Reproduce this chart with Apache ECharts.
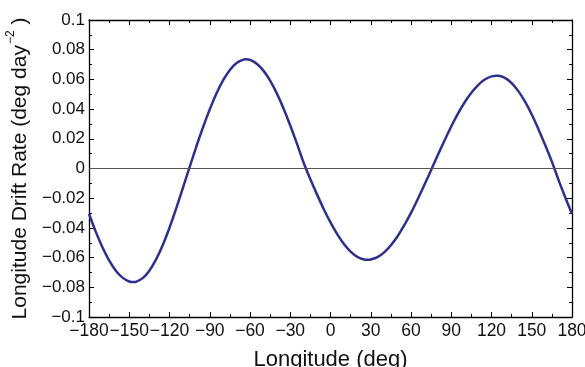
<!DOCTYPE html>
<html>
<head>
<meta charset="utf-8">
<script src="https://cdn.jsdelivr.net/npm/echarts@6/dist/echarts.min.js"></script>
<style>
html,body{margin:0;padding:0;background:#fff;}
#chart{width:585px;height:367px;}
</style>
</head>
<body>
<div id="chart"></div>
<script>
// Longitude (deg)
var longitudes = [-180,-175,-170,-165,-160,-155,-150,-147,-145,-140,-135,-130,-125,-120,-115,-110,-105,
  -100,-95,-90,-85,-80,-75,-70,-65,-63,-60,-55,-50,-45,-40,-35,-30,-25,-20,-15,-10,-5,
  0,5,10,15,20,25,28,30,35,40,45,50,55,60,65,70,75,
  80,85,90,95,100,105,110,115,120,124,125,130,135,140,145,150,155,160,165,170,175,180];
// Longitude drift rate (deg/day^2)
var driftRates = [-0.0305,-0.0425,-0.0530,-0.0619,-0.0688,-0.0735,-0.0761,-0.0765,-0.0763,-0.0738,-0.0688,-0.0612,-0.0515,-0.0399,-0.0269,-0.0130,0.0009,
  0.0148,0.0278,0.0398,0.0505,0.0595,0.0664,0.0711,0.0733,0.0735,0.0731,0.0706,0.0659,0.0592,0.0506,0.0404,0.0290,0.0167,0.0039,-0.0073,-0.0176,-0.0274,
  -0.0363,-0.0442,-0.0508,-0.0560,-0.0595,-0.0613,-0.0615,-0.0613,-0.0597,-0.0565,-0.0517,-0.0456,-0.0382,-0.0299,-0.0207,-0.0110,-0.0010,
  0.0091,0.0189,0.0283,0.0369,0.0446,0.0510,0.0562,0.0599,0.0620,0.0625,0.0625,0.0610,0.0575,0.0521,0.0450,0.0364,0.0265,0.0158,0.0046,-0.0078,-0.0195,-0.0305];
var xTicks = [-180,-150,-120,-90,-60,-30,0,30,60,90,120,150,180];
var yTicks = [-0.1,-0.08,-0.06,-0.04,-0.02,0,0.02,0.04,0.06,0.08,0.1];

var FONT = "'Liberation Sans', Arial, Helvetica, sans-serif";
function fmtNum(v){
  if (Math.abs(v) < 1e-12) return '0';
  var s = String(+Math.abs(v).toFixed(3));
  return (v < 0 ? '\u2212' : '') + s;
}
var pts = longitudes.map(function(x,i){return [x, driftRates[i]];});

var axisLine = {show:true, onZero:false, lineStyle:{color:'#000', width:1.3}};
var tick = {show:true, inside:true, length:5, lineStyle:{color:'#000', width:1}};
var minor = {show:true, splitNumber:2, length:3, lineStyle:{color:'#000', width:1}};

var chart = echarts.init(document.getElementById('chart'), null, {renderer:'canvas'});
chart.setOption({
  animation:false,
  backgroundColor:'#fff',
  grid:{left:89, right:13, top:20, bottom:50, containLabel:false, outerBoundsMode:'none'},
  xAxis:[{
    type:'value', min:xTicks[0], max:xTicks[xTicks.length-1], interval:30,
    position:'bottom',
    axisLine:axisLine, axisTick:tick, minorTick:minor, splitLine:{show:false},
    axisLabel:{show:true, margin:5, color:'#111', fontFamily:FONT, fontSize:17.5, formatter:fmtNum,
      showMinLabel:true, showMaxLabel:true, hideOverlap:false},
    name:'Longitude (deg)', nameLocation:'middle', nameGap:32,
    nameTextStyle:{color:'#111', fontFamily:FONT, fontSize:22}
  },{
    type:'value', min:xTicks[0], max:xTicks[xTicks.length-1], interval:30,
    position:'top',
    axisLine:axisLine, axisTick:tick, minorTick:minor, splitLine:{show:false},
    axisLabel:{show:false}
  }],
  yAxis:[{
    type:'value', min:yTicks[0], max:yTicks[yTicks.length-1], interval:0.02,
    position:'left',
    axisLine:axisLine, axisTick:tick, minorTick:minor, splitLine:{show:false},
    axisLabel:{show:true, margin:4, color:'#111', fontFamily:FONT, fontSize:17, formatter:fmtNum,
      showMinLabel:true, showMaxLabel:true},
    name:'{a|Longitude Drift Rate (deg day}{s|\u22122}{a| )}', nameLocation:'middle', nameGap:57, nameRotate:90,
    nameTextStyle:{color:'#111', fontFamily:FONT, fontSize:21,
      rich:{a:{fontFamily:FONT, fontSize:21, color:'#111', lineHeight:26, verticalAlign:'bottom'},
            s:{fontFamily:FONT, fontSize:12, color:'#111', lineHeight:26, verticalAlign:'top', padding:[0,0,0,1]}}}
  },{
    type:'value', min:yTicks[0], max:yTicks[yTicks.length-1], interval:0.02,
    position:'right',
    axisLine:axisLine, axisTick:tick, minorTick:minor, splitLine:{show:false},
    axisLabel:{show:false}
  }],
  series:[{
    type:'line', data:pts, xAxisIndex:0, yAxisIndex:0,
    showSymbol:false, smooth:0.3,
    lineStyle:{color:'#2e318c', width:2.5},
    markLine:{silent:true, symbol:'none', label:{show:false},
      lineStyle:{color:'#555', width:1.2, type:'solid'},
      data:[{yAxis:0}]}
  }]
});
</script>
</body>
</html>
